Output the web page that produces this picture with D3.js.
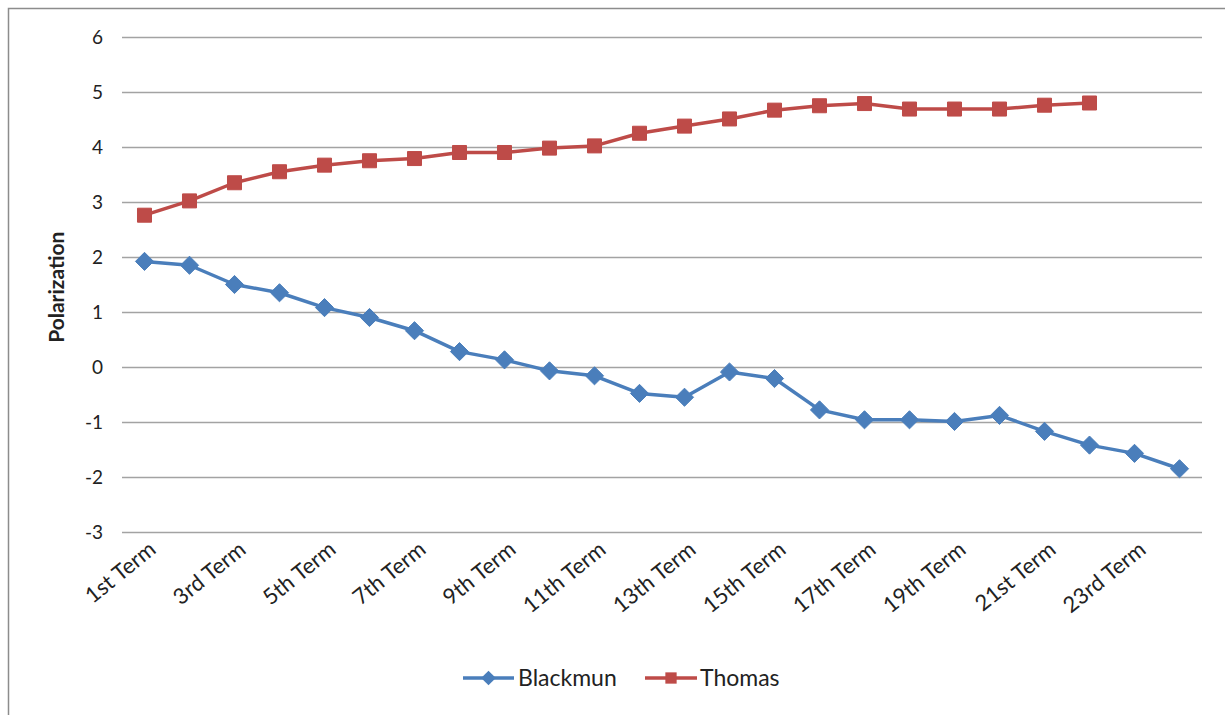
<!DOCTYPE html>
<html>
<head>
<meta charset="utf-8">
<script src="https://cdn.jsdelivr.net/npm/d3@7"></script>
<style>
  html, body { margin: 0; padding: 0; background: #fff; }
  svg text { font-family: Lato, "Open Sans", "Liberation Sans", sans-serif; fill: #222; }
</style>
</head>
<body>
<svg id="chart" width="1225" height="715"></svg>
<script>
// Terms (x categories)
const terms = ["1st Term","2nd Term","3rd Term","4th Term","5th Term","6th Term","7th Term","8th Term",
  "9th Term","10th Term","11th Term","12th Term","13th Term","14th Term","15th Term","16th Term",
  "17th Term","18th Term","19th Term","20th Term","21st Term","22nd Term","23rd Term","24th Term"];

// Polarization scores by term
const blackmun = [1.92, 1.85, 1.50, 1.35, 1.08, 0.90, 0.66, 0.28, 0.13, -0.07, -0.16, -0.48,
  -0.55, -0.09, -0.21, -0.78, -0.96, -0.96, -0.99, -0.88, -1.17, -1.42, -1.57, -1.85];
const thomas = [2.76, 3.02, 3.35, 3.55, 3.67, 3.75, 3.79, 3.90, 3.90, 3.98, 4.02, 4.25,
  4.38, 4.51, 4.67, 4.75, 4.79, 4.69, 4.69, 4.69, 4.76, 4.80];

const yTicks = [-3, -2, -1, 0, 1, 2, 3, 4, 5, 6];

const series = [
  { name: "Blackmun", values: blackmun, color: "#4a7ebb", symbol: d3.symbolDiamond2, size: 210 },
  { name: "Thomas", values: thomas, color: "#be4b48", symbol: d3.symbolSquare2, size: 250 }
];

const svg = d3.select("#chart");

// Outer frame (top and left edges)
svg.append("path")
  .attr("d", "M8.5,715 L8.5,8.5 L1225,8.5")
  .attr("fill", "none").attr("stroke", "#8c8c8c").attr("stroke-width", 1.5);

const plotLeft = 122, plotRight = 1202, plotTop = 37, plotBottom = 532;

const x = d3.scaleBand().domain(terms).range([plotLeft, plotRight]);
const y = d3.scaleLinear().domain([-3, 6]).range([plotBottom, plotTop]);

// Gridlines and y labels
const yAxis = svg.append("g").attr("transform", `translate(${plotLeft},0)`)
  .call(d3.axisLeft(y).tickValues(yTicks).tickSize(-(plotRight - plotLeft)).tickPadding(19)
    .tickFormat(d => d < 0 ? "-" + Math.abs(d) : String(d)));
yAxis.select(".domain").remove();
yAxis.selectAll(".tick line").attr("stroke", "#a3a3a3").attr("stroke-width", 1.5);
yAxis.selectAll(".tick text").attr("font-size", 19).attr("fill", "#222");

// X labels on every other term, rotated
const xAxis = svg.append("g").attr("transform", `translate(0,${plotBottom})`)
  .call(d3.axisBottom(x).tickValues(terms.filter((d, i) => i % 2 === 0)).tickSize(0));
xAxis.select(".domain").remove();
xAxis.selectAll(".tick text")
  .attr("font-size", 22).attr("fill", "#222")
  .attr("text-anchor", "end")
  .attr("transform", "translate(8,14) rotate(-39)")
  .attr("dy", "0.35em").attr("y", 0);

// Axis title
svg.append("text")
  .attr("transform", `translate(64,${y(1.45)}) rotate(-90)`)
  .attr("text-anchor", "middle")
  .attr("font-size", 21).attr("font-weight", "bold")
  .text("Polarization");

const cx = t => x(t) + x.bandwidth() / 2;

const line = d3.line().x((d, i) => cx(terms[i])).y(d => y(d));

series.forEach(s => {
  const g = svg.append("g");
  g.append("path")
    .datum(s.values)
    .attr("d", line)
    .attr("fill", "none")
    .attr("stroke", s.color)
    .attr("stroke-width", 3.5)
    .attr("stroke-linejoin", "round");
  g.selectAll("path.marker")
    .data(s.values)
    .join("path")
    .attr("class", "marker")
    .attr("d", d3.symbol(s.symbol, s.size))
    .attr("transform", (d, i) => `translate(${cx(terms[i])},${y(d)})`)
    .attr("fill", s.color)
    .attr("stroke", s.color)
    .attr("stroke-width", 1);
});

// Legend
const legendItems = [
  { s: series[0], x0: 463, x1: 514, tx: 518 },
  { s: series[1], x0: 645, x1: 697, tx: 700 }
];
const ly = 678;
legendItems.forEach(it => {
  svg.append("line")
    .attr("x1", it.x0).attr("x2", it.x1).attr("y1", ly).attr("y2", ly)
    .attr("stroke", it.s.color).attr("stroke-width", 3.5);
  svg.append("path")
    .attr("d", d3.symbol(it.s.symbol, it.s.size * 0.65))
    .attr("transform", `translate(${(it.x0 + it.x1) / 2},${ly})`)
    .attr("fill", it.s.color);
  svg.append("text")
    .attr("x", it.tx).attr("y", ly).attr("dy", "0.35em")
    .attr("font-size", 23)
    .text(it.s.name);
});
</script>
</body>
</html>
